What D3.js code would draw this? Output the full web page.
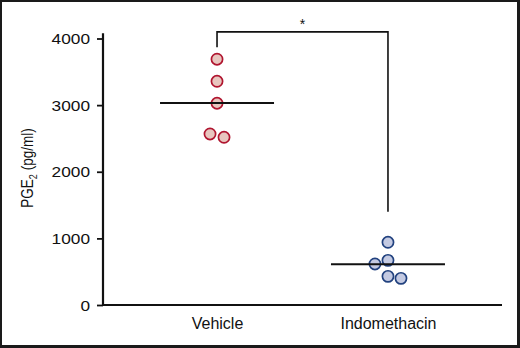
<!DOCTYPE html>
<html><head><meta charset="utf-8">
<script src="https://cdn.jsdelivr.net/npm/d3@7/dist/d3.min.js"></script>
<style>
html,body{margin:0;padding:0;background:#fff;}
svg{display:block;font-family:"Liberation Sans",Arial,Helvetica,sans-serif;}
</style></head>
<body>
<svg id="c" width="520" height="348"></svg>
<script>
const categories = ["Vehicle", "Indomethacin"];
const vehicleValues = [3689, 3358, 3028, 2567, 2517];
const indomethacinValues = [941, 670, 616, 430, 400];
const vehicleJitter = [0, 0, 0, -1, 1];
const indomethacinJitter = [0, 0, -1, 0, 1];
const yTicks = [0, 1000, 2000, 3000, 4000];
const bracketTop = 4100;
const bracketEnds = [3870, 1400];
const significance = "*";

const svg = d3.select("#c");
const W = 520, H = 348;

// frame
svg.append("rect").attr("x",0).attr("y",0).attr("width",W).attr("height",H).attr("fill","#1a1a1a");
svg.append("rect").attr("x",2).attr("y",2).attr("width",515).attr("height",343).attr("fill","#fff");

const x = d3.scalePoint().domain(categories).range([103, 502]).padding(0.667);
const y = d3.scaleLinear().domain([0, 4000]).range([305, 38.5]);

const series = [
  {cat: "Vehicle", values: vehicleValues, jitter: vehicleJitter, step: 7, fill: "#e8c6bf", stroke: "#b0152f"},
  {cat: "Indomethacin", values: indomethacinValues, jitter: indomethacinJitter, step: 13, fill: "#c4cae2", stroke: "#22427f"}
];

// y axis
const yAxis = d3.axisLeft(y).tickValues(yTicks).tickFormat(d3.format("d"))
  .tickSize(6).tickPadding(7).tickSizeOuter(0);
const gy = svg.append("g").attr("transform","translate(103,0)").call(yAxis);
gy.select(".domain").remove();
gy.selectAll(".tick line").attr("stroke","#111").attr("stroke-width",1.8);
gy.selectAll(".tick text").attr("font-size",14.5).attr("fill","#111")
  .attr("font-family","'Liberation Sans',Arial,sans-serif")
  .attr("textLength", d => String(d).length * 9.6).attr("lengthAdjust","spacingAndGlyphs")
  .attr("dy","0.36em");
svg.append("line").attr("x1",103).attr("x2",103).attr("y1",y(4080)).attr("y2",y(0)+1)
  .attr("stroke","#111").attr("stroke-width",2.2);

// x axis
const xAxis = d3.axisBottom(x).tickSize(0).tickPadding(13);
const gx = svg.append("g").attr("transform",`translate(0,${y(0)})`).call(xAxis);
gx.select(".domain").remove();
gx.selectAll(".tick text").attr("font-size",16).attr("fill","#111")
  .attr("font-family","'Liberation Sans',Arial,sans-serif");
svg.append("line").attr("x1",102).attr("x2",502).attr("y1",y(0)).attr("y2",y(0))
  .attr("stroke","#111").attr("stroke-width",2.2);

// y label (condensed along its reading direction)
svg.append("text").attr("transform",`translate(33,168) rotate(-90) scale(0.82,1)`)
  .attr("text-anchor","middle").attr("font-size",16.5).attr("fill","#111")
  .html('PGE<tspan font-size="11" dy="4">2</tspan><tspan dy="-4"> (pg/ml)</tspan>');

// points
series.forEach(s => {
  svg.append("g").selectAll("circle").data(s.values).join("circle")
    .attr("cx", (d,i) => x(s.cat) + s.jitter[i]*s.step)
    .attr("cy", d => y(d))
    .attr("r", 5.6)
    .attr("fill", s.fill).attr("stroke", s.stroke).attr("stroke-width",1.7);
  const m = d3.mean(s.values);
  svg.append("line").attr("x1", x(s.cat)-57).attr("x2", x(s.cat)+57)
    .attr("y1", y(m)).attr("y2", y(m)).attr("stroke","#111").attr("stroke-width",2);
});

// bracket
const bx0 = x(categories[0]), bx1 = x(categories[1]);
svg.append("path")
  .attr("d", `M${bx0},${y(bracketEnds[0])}V${y(bracketTop)}H${bx1}V${y(bracketEnds[1])}`)
  .attr("fill","none").attr("stroke","#111").attr("stroke-width",1.6);
svg.append("text").attr("x",(bx0+bx1)/2).attr("y",y(bracketTop)-3)
  .attr("text-anchor","middle").attr("font-size",14).attr("fill","#111").text(significance);
</script>
</body></html>
